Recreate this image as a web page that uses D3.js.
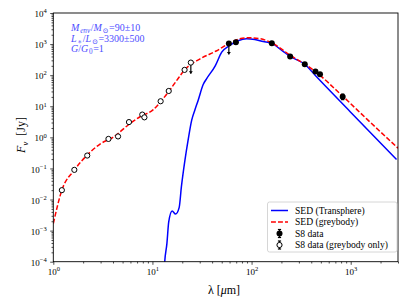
<!DOCTYPE html>
<html>
<head>
<meta charset="utf-8">
<script src="https://cdn.jsdelivr.net/npm/d3@7"></script>
<style>
  body { margin: 0; background: #fff; }
  text { font-family: "Liberation Serif", "DejaVu Serif", serif; }
</style>
</head>
<body>
<svg id="chart" width="407" height="305"></svg>
<script>
// SED model: Transphere (blue solid)
const transWl   = [13.0, 13.3, 14.0, 14.6, 15.8, 17.1, 18.6, 19.6, 21.3, 22.9, 24.9, 26.8, 29, 32.5, 35, 43, 50, 60, 73, 89, 108, 131, 158, 208, 245, 344, 450, 988, 2900];
const transFlux = [3e-5, 1e-4, 0.00039, 0.0019, 0.0043, 0.0034, 0.0055, 0.026, 0.19, 0.82, 3.6, 7.6, 16, 50, 75, 200, 550, 900, 1280, 1480, 1400, 1210, 1070, 580, 400, 225, 90, 6.7, 0.195];

// SED model: greybody (red dashed)
const greyWl   = [1, 1.22, 1.63, 2.2, 2.96, 4.0, 5.7, 7.5, 10.2, 12.1, 14.6, 17.6, 21.1, 30, 44, 59, 76, 95, 120, 158, 242, 418, 840, 1440, 3000];
const greyFlux = [0.00168, 0.02, 0.088, 0.27, 0.61, 1.0, 2.5, 4.6, 7.8, 14, 30, 68, 148, 330, 600, 1040, 1480, 1600, 1500, 1120, 450, 148, 20.4, 4.0, 0.45];

// S8 data (filled)
const s8Wl   = [59, 69.5, 160, 245, 344, 441, 490, 830];
const s8Flux = [1040, 1150, 1070, 400, 225, 131, 108, 20.4];
const s8Err  = [100, 115, 107, 40, 22, 13, 11, 4];

// upper limits (arrow down)
const ulWl   = [24.4, 59];
const ulFlux = [254, 1040];
const ulLow  = [112, 460];

// S8 data used for greybody only (open)
const gbWl   = [1.22, 1.63, 2.2, 3.6, 4.5, 5.8, 7.9, 8.3, 12.1, 14.6, 21.1, 24.4];
const gbFlux = [0.02, 0.09, 0.26, 0.89, 1.07, 3.1, 5.4, 4.4, 14.5, 31, 148, 254];

const xMajor = [1, 10, 100, 1000];
const yMajor = [1e-4, 1e-3, 1e-2, 1e-1, 1, 10, 100, 1000, 1e4];

const legendLabels = ["SED (Transphere)", "SED (greybody)", "S8 data", "S8 data (greybody only)"];

const svg = d3.select('#chart');
const pL = 53.3, pR = 398, pT = 13, pB = 261.7;

const x = d3.scaleLog().domain([1, 3000]).range([pL, pR]);
const y = d3.scaleLog().domain([1e-4, 1e4]).range([pB, pT]);

const minorX = [];
for (let d = 0; d <= 3; d++) for (let k = 2; k <= 9; k++) {
  const v = k * Math.pow(10, d);
  if (v <= 3000) minorX.push(v);
}
const minorY = [];
for (let d = -4; d <= 3; d++) for (let k = 2; k <= 9; k++) minorY.push(k * Math.pow(10, d));

function powLabel(sel, anchor) {
  sel.each(function(d) {
    const t = d3.select(this).text(null).attr('text-anchor', anchor);
    const e = Math.round(Math.log10(d));
    t.append('tspan').text('10');
    t.append('tspan').attr('dy', -3.8).attr('font-size', 6.5).text(e < 0 ? '\u2212' + (-e) : e);
  });
}

// axes
svg.append('g')
  .attr('transform', `translate(0,${pB})`)
  .call(d3.axisBottom(x).tickValues(minorX).tickSize(1.8).tickFormat(''))
  .call(g => g.select('.domain').remove());
svg.append('g')
  .attr('transform', `translate(0,${pB})`)
  .call(d3.axisBottom(x).tickValues(xMajor).tickSize(3.1).tickPadding(4))
  .call(g => g.select('.domain').remove())
  .call(g => g.selectAll('.tick text').attr('font-size', 9).attr('font-family', null).call(powLabel, 'middle'));

svg.append('g')
  .attr('transform', `translate(${pL},0)`)
  .call(d3.axisLeft(y).tickValues(minorY).tickSize(1.8).tickFormat(''))
  .call(g => g.select('.domain').remove());
svg.append('g')
  .attr('transform', `translate(${pL},0)`)
  .call(d3.axisLeft(y).tickValues(yMajor).tickSize(3.1).tickPadding(3.5))
  .call(g => g.select('.domain').remove())
  .call(g => g.selectAll('.tick text').attr('font-size', 9).attr('font-family', null).attr('dy', '0.4em').call(powLabel, 'end'));

svg.selectAll('.tick line').attr('stroke', '#000').attr('stroke-width', 0.7);

// clip
svg.append('clipPath').attr('id', 'clip')
  .append('rect').attr('x', pL).attr('y', pT).attr('width', pR - pL).attr('height', pB - pT);

const line = d3.line()
  .x(d => x(d[0]))
  .y(d => y(d[1]))
  .curve(d3.curveMonotoneX);

const plot = svg.append('g').attr('clip-path', 'url(#clip)');

plot.append('path')
  .datum(transWl.map((w, i) => [w, transFlux[i]]))
  .attr('d', line)
  .attr('fill', 'none')
  .attr('stroke', '#0000ff')
  .attr('stroke-width', 1.5);

plot.append('path')
  .datum(greyWl.map((w, i) => [w, greyFlux[i]]))
  .attr('d', line)
  .attr('fill', 'none')
  .attr('stroke', '#ff0000')
  .attr('stroke-width', 1.5)
  .attr('stroke-dasharray', '4.9,2.1');

// upper limits
ulWl.forEach((w, i) => {
  const px = x(w), y0 = y(ulFlux[i]), y1 = y(ulLow[i]);
  plot.append('line').attr('x1', px).attr('x2', px).attr('y1', y0).attr('y2', y1)
    .attr('stroke', '#000').attr('stroke-width', 1.2);
  plot.append('path')
    .attr('d', `M${px - 2},${y1 - 2.5}L${px + 2},${y1 - 2.5}L${px},${y1}Z`)
    .attr('fill', '#000');
});

// S8 error bars + markers
s8Wl.forEach((w, i) => {
  const px = x(w), ya = y(s8Flux[i] + s8Err[i]), yb = y(s8Flux[i] - s8Err[i]);
  plot.append('line').attr('x1', px).attr('x2', px).attr('y1', ya).attr('y2', yb)
    .attr('stroke', '#000').attr('stroke-width', 1.2);
  [ya, yb].forEach(yy => plot.append('line').attr('x1', px - 1.6).attr('x2', px + 1.6)
    .attr('y1', yy).attr('y2', yy).attr('stroke', '#000').attr('stroke-width', 1.2));
});
plot.selectAll('.s8').data(s8Wl).enter().append('circle')
  .attr('class', 's8')
  .attr('cx', d => x(d))
  .attr('cy', (d, i) => y(s8Flux[i]))
  .attr('r', 3)
  .attr('fill', '#000');

plot.selectAll('.gb').data(gbWl).enter().append('circle')
  .attr('class', 'gb')
  .attr('cx', d => x(d))
  .attr('cy', (d, i) => y(gbFlux[i]))
  .attr('r', 2.6)
  .attr('fill', '#fff')
  .attr('stroke', '#000')
  .attr('stroke-width', 1);

// frame
svg.append('rect')
  .attr('x', pL).attr('y', pT).attr('width', pR - pL).attr('height', pB - pT)
  .attr('fill', 'none').attr('stroke', '#000').attr('stroke-width', 0.9);

// axis labels
const xl = svg.append('text').attr('x', 224).attr('y', 294).attr('text-anchor', 'middle').attr('font-size', 12);
xl.append('tspan').text('\u03bb [');
xl.append('tspan').attr('font-style', 'italic').text('\u03bc');
xl.append('tspan').text('m]');

const yl = svg.append('text')
  .attr('transform', 'translate(25,135) rotate(-90)')
  .attr('text-anchor', 'middle').attr('font-size', 12);
yl.append('tspan').attr('font-style', 'italic').text('F');
yl.append('tspan').attr('font-style', 'italic').attr('font-size', 8.5).attr('dy', 2.5).text('\u03bd');
yl.append('tspan').attr('dy', -2.5).text('\u2002[Jy]');

// annotation
const annCol = '#4d4dff';
function subText(t, parts) {
  parts.forEach(p => {
    const s = t.append('tspan').text(p.t);
    if (p.i) s.attr('font-style', 'italic');
    if (p.sub) s.attr('font-size', 7.2).attr('dy', 2.4).attr('dx', 0.8);
    if (p.up) s.attr('dy', -2.4).attr('dx', 0.5);
  });
}
const ann1 = svg.append('text').attr('x', 71).attr('y', 31).attr('font-size', 10).attr('fill', annCol);
subText(ann1, [{t: 'M', i: 1}, {t: 'env', i: 1, sub: 1}, {t: '/', up: 1}, {t: 'M', i: 1}, {t: '\u2299', sub: 1}, {t: '=90\u00b110', up: 1}]);
const ann2 = svg.append('text').attr('x', 71).attr('y', 41.5).attr('font-size', 10).attr('fill', annCol);
subText(ann2, [{t: 'L', i: 1}, {t: '\u2217', sub: 1}, {t: '/', up: 1}, {t: 'L', i: 1}, {t: '\u2299', sub: 1}, {t: '=3300\u00b1500', up: 1}]);
const ann3 = svg.append('text').attr('x', 71).attr('y', 52).attr('font-size', 10).attr('fill', annCol);
subText(ann3, [{t: 'G', i: 1}, {t: '/', i: 0}, {t: 'G', i: 1}, {t: '0', sub: 1}, {t: '=1', up: 1}]);

// legend
const lg = svg.append('g');
lg.append('rect').attr('x', 267.5).attr('y', 202).attr('width', 129.5).attr('height', 50)
  .attr('rx', 2).attr('fill', '#fff').attr('fill-opacity', 0.8).attr('stroke', '#ccc').attr('stroke-width', 0.8);
const rowY = [210.5, 222, 233.5, 245];
lg.append('line').attr('x1', 271).attr('x2', 288).attr('y1', rowY[0]).attr('y2', rowY[0])
  .attr('stroke', '#0000ff').attr('stroke-width', 1.5);
lg.append('line').attr('x1', 271).attr('x2', 288).attr('y1', rowY[1]).attr('y2', rowY[1])
  .attr('stroke', '#ff0000').attr('stroke-width', 1.5).attr('stroke-dasharray', '4.9,2.1');
[2, 3].forEach(r => {
  const cy = rowY[r], cx = 279.5;
  lg.append('line').attr('x1', cx).attr('x2', cx).attr('y1', cy - 4).attr('y2', cy + 4).attr('stroke', '#000').attr('stroke-width', 1.2);
  [cy - 4, cy + 4].forEach(yy => lg.append('line').attr('x1', cx - 1.6).attr('x2', cx + 1.6).attr('y1', yy).attr('y2', yy).attr('stroke', '#000').attr('stroke-width', 1.2));
  lg.append('circle').attr('cx', cx).attr('cy', cy).attr('r', r === 2 ? 3 : 2.6)
    .attr('fill', r === 2 ? '#000' : '#fff').attr('stroke', '#000').attr('stroke-width', r === 2 ? 0 : 1);
});
lg.selectAll('.lt').data(legendLabels).enter().append('text')
  .attr('x', 295).attr('y', (d, i) => rowY[i] + 3.2).attr('font-size', 9.6).text(d => d);
</script>
</body>
</html>
